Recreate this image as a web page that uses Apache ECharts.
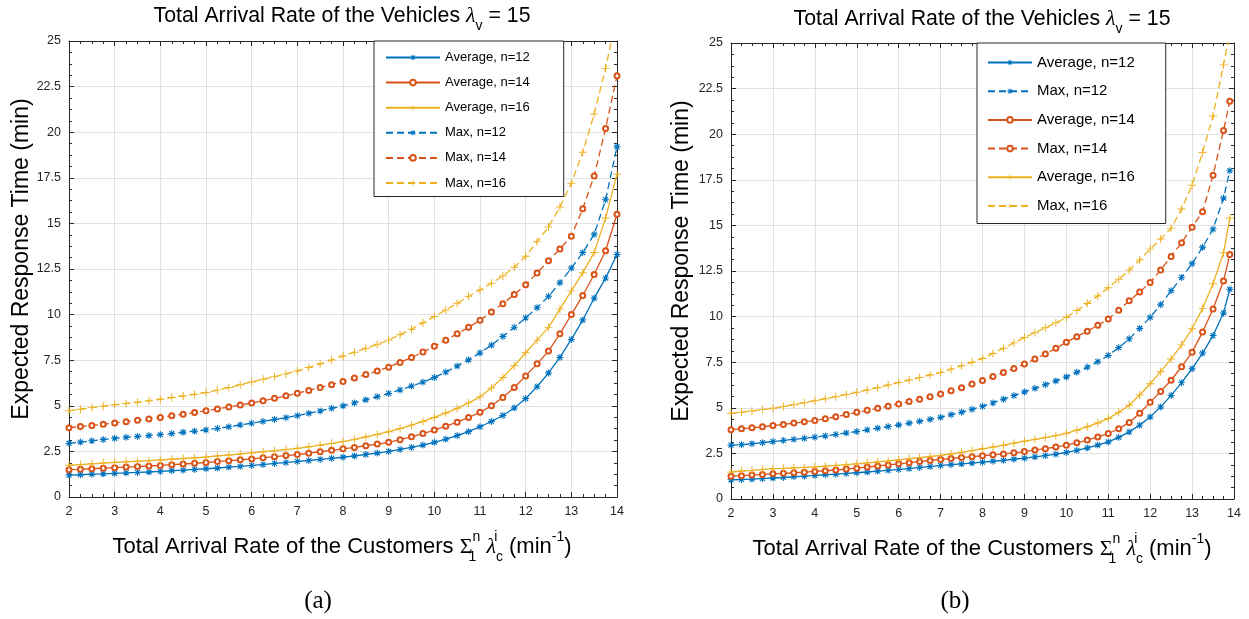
<!DOCTYPE html>
<html><head><meta charset="utf-8">
<script src="https://cdn.jsdelivr.net/npm/echarts@6/dist/echarts.min.js"></script>
<style>html,body{margin:0;padding:0;background:#fff}#c{width:1249px;height:619px}</style>
</head><body><div id="c"></div>
<script>
// ---------- data ----------
const xTicks = [2,3,4,5,6,7,8,9,10,11,12,13,14];
const yTicks = [0,2.5,5,7.5,10,12.5,15,17.5,20,22.5,25];

const xA = [2,2.25,2.5,2.75,3,3.25,3.5,3.75,4,4.25,4.5,4.75,5,5.25,5.5,5.75,6,6.25,6.5,6.75,7,7.25,7.5,7.75,8,8.25,8.5,8.75,9,9.25,9.5,9.75,10,10.25,10.5,10.75,11,11.25,11.5,11.75,12,12.25,12.5,12.75,13,13.25,13.5,13.75,14];
const xB = [2,2.25,2.5,2.75,3,3.25,3.5,3.75,4,4.25,4.5,4.75,5,5.25,5.5,5.75,6,6.25,6.5,6.75,7,7.25,7.5,7.75,8,8.25,8.5,8.75,9,9.25,9.5,9.75,10,10.25,10.5,10.75,11,11.25,11.5,11.75,12,12.25,12.5,12.75,13,13.25,13.5,13.75,13.9];

// panel (a)
const avgA12 = [1.20,1.22,1.25,1.27,1.30,1.32,1.35,1.37,1.40,1.44,1.47,1.51,1.55,1.59,1.64,1.68,1.73,1.78,1.84,1.89,1.95,2.00,2.06,2.12,2.18,2.25,2.33,2.41,2.50,2.61,2.72,2.85,3.00,3.17,3.37,3.59,3.85,4.14,4.47,4.88,5.40,6.05,6.80,7.65,8.64,9.70,10.90,12.00,13.30];
const avgA14 = [1.50,1.52,1.55,1.58,1.61,1.64,1.67,1.70,1.73,1.77,1.81,1.85,1.89,1.94,1.99,2.04,2.09,2.15,2.21,2.27,2.33,2.40,2.48,2.56,2.64,2.72,2.81,2.90,3.00,3.14,3.30,3.48,3.67,3.88,4.10,4.36,4.64,5.00,5.45,6.00,6.64,7.30,8.00,8.95,10.00,11.05,12.20,13.50,15.50];
const avgA16 = [1.74,1.78,1.82,1.86,1.90,1.93,1.96,1.99,2.03,2.07,2.11,2.15,2.19,2.25,2.30,2.36,2.42,2.48,2.54,2.60,2.67,2.75,2.84,2.94,3.04,3.16,3.29,3.43,3.58,3.75,3.94,4.14,4.36,4.60,4.86,5.16,5.49,5.98,6.55,7.20,7.91,8.60,9.30,10.30,11.30,12.30,13.40,15.30,17.70];
const maxA12 = [2.95,3.01,3.08,3.15,3.22,3.27,3.32,3.37,3.42,3.48,3.55,3.61,3.68,3.76,3.85,3.95,4.05,4.15,4.25,4.35,4.46,4.59,4.72,4.86,5.00,5.16,5.33,5.50,5.68,5.87,6.08,6.30,6.55,6.85,7.18,7.52,7.90,8.33,8.80,9.30,9.82,10.38,11.00,11.75,12.55,13.40,14.40,16.30,19.20];
const maxA14 = [3.80,3.86,3.92,3.99,4.06,4.13,4.21,4.28,4.36,4.45,4.54,4.63,4.73,4.83,4.93,5.04,5.15,5.28,5.41,5.55,5.69,5.84,6.00,6.16,6.33,6.52,6.71,6.91,7.12,7.38,7.65,7.95,8.27,8.60,8.95,9.30,9.69,10.14,10.60,11.10,11.64,12.28,12.95,13.60,14.30,15.80,17.60,20.20,23.10];
const maxA16 = [4.73,4.81,4.90,4.98,5.06,5.13,5.20,5.28,5.36,5.45,5.54,5.63,5.73,5.86,6.00,6.15,6.31,6.45,6.60,6.75,6.91,7.10,7.30,7.51,7.73,7.94,8.15,8.37,8.60,8.90,9.20,9.55,9.90,10.25,10.62,11.00,11.35,11.72,12.12,12.60,13.20,14.00,14.80,15.90,17.20,18.90,21.00,23.50,26.50];

// panel (b)
const avgB12 = [1.05,1.07,1.09,1.12,1.15,1.18,1.22,1.25,1.29,1.33,1.36,1.40,1.44,1.48,1.53,1.57,1.62,1.67,1.73,1.78,1.84,1.88,1.93,1.97,2.02,2.07,2.12,2.18,2.24,2.31,2.38,2.46,2.55,2.67,2.80,2.96,3.13,3.38,3.68,4.05,4.50,5.05,5.68,6.38,7.14,8.00,8.96,10.20,11.50];
const maxB12 = [2.95,2.98,3.03,3.09,3.15,3.21,3.27,3.33,3.39,3.46,3.54,3.62,3.70,3.79,3.88,3.97,4.06,4.16,4.26,4.37,4.48,4.62,4.76,4.92,5.08,5.27,5.47,5.67,5.87,6.07,6.27,6.47,6.69,6.95,7.23,7.53,7.87,8.30,8.78,9.35,9.96,10.65,11.42,12.15,12.90,13.80,14.80,16.50,18.00];
const avgB14 = [1.25,1.28,1.31,1.35,1.38,1.41,1.44,1.47,1.51,1.55,1.59,1.64,1.69,1.75,1.81,1.87,1.93,1.99,2.05,2.11,2.17,2.22,2.27,2.32,2.37,2.42,2.47,2.53,2.60,2.68,2.76,2.85,2.95,3.08,3.23,3.40,3.59,3.85,4.19,4.70,5.30,5.90,6.51,7.25,8.05,9.15,10.42,11.95,13.40];
const maxB14 = [3.80,3.85,3.90,3.96,4.03,4.09,4.16,4.23,4.30,4.40,4.51,4.63,4.75,4.86,4.97,5.09,5.21,5.34,5.47,5.61,5.76,5.93,6.10,6.30,6.50,6.71,6.93,7.16,7.40,7.67,7.95,8.26,8.60,8.90,9.20,9.52,9.87,10.35,10.87,11.35,11.87,12.55,13.30,14.05,14.90,15.75,17.75,20.20,21.80];
const avgB16 = [1.48,1.53,1.57,1.62,1.66,1.68,1.71,1.73,1.76,1.80,1.84,1.88,1.93,1.98,2.04,2.09,2.15,2.21,2.27,2.33,2.39,2.47,2.56,2.65,2.75,2.85,2.95,3.06,3.17,3.27,3.37,3.48,3.60,3.77,3.96,4.17,4.41,4.75,5.14,5.70,6.32,6.98,7.68,8.45,9.33,10.45,11.80,13.50,15.40];
const maxB16 = [4.70,4.76,4.83,4.90,4.97,5.07,5.17,5.28,5.39,5.50,5.61,5.73,5.85,5.98,6.11,6.25,6.39,6.52,6.66,6.80,6.94,7.12,7.30,7.50,7.70,7.98,8.27,8.56,8.85,9.12,9.39,9.66,9.95,10.33,10.72,11.13,11.58,12.05,12.55,13.10,13.70,14.25,14.85,15.90,17.20,19.00,21.00,23.80,25.60];

const legendA = ['Average, n=12','Average, n=14','Average, n=16','Max, n=12','Max, n=14','Max, n=16'];
const legendB = ['Average, n=12','Max, n=12','Average, n=14','Max, n=14','Average, n=16','Max, n=16'];

// ---------- style ----------
const FONT = '"Liberation Sans", Arial, Helvetica, sans-serif';
const SERIF = '"Liberation Serif", "DejaVu Serif", serif';
const C12 = '#0072BD', C14 = '#D95319', C16 = '#EDB120';
const AX = '#262626';
const ASTERISK = 'path://M4.3,0H5.7V4.3H10V5.7H5.7V10H4.3V5.7H0V4.3H4.3Z M0.89,2.03L2.03,0.89L9.11,7.97L7.97,9.11Z M7.97,0.89L9.11,2.03L2.03,9.11L0.89,7.97Z';
const PLUS = 'path://M4.4,0H5.6V4.4H10V5.6H5.6V10H4.4V5.6H0V4.4H4.4Z';

function mk(name, xs, ys, color, kind, dashed, gi) {
  const sym = kind === 12 ? ASTERISK : (kind === 14 ? 'emptyCircle' : PLUS);
  const size = kind === 12 ? 7 : (kind === 14 ? 5 : 8);
  return {
    type: 'line', name, xAxisIndex: gi * 2, yAxisIndex: gi * 2,
    data: xs.map((v, i) => [v, ys[i]]),
    symbol: sym, symbolSize: size, showSymbol: true, showAllSymbol: true, clip: true,
    lineStyle: { color, width: 1.3, type: dashed ? [7, 4] : 'solid' },
    itemStyle: { color, borderColor: color, borderWidth: kind === 14 ? 1.2 : 0 },
    emphasis: { disabled: true }, animation: false, silent: true
  };
}

function xAx(gi, pos, main) {
  return {
    type: 'value', gridIndex: gi, position: pos,
    min: xTicks[0], max: xTicks[xTicks.length - 1], interval: xTicks[1] - xTicks[0],
    axisLine: { show: true, onZero: false, lineStyle: { color: AX, width: 1 } },
    axisTick: { show: true, inside: true, length: 5, lineStyle: { color: AX, width: 1 } },
    minorTick: { show: true, splitNumber: 4, length: 3, lineStyle: { color: AX, width: 1 } },
    axisLabel: { show: main, margin: 8, fontSize: 12.5, color: AX, fontFamily: FONT },
    splitLine: { show: main, lineStyle: { color: '#e2e2e2', width: 1 } },
    minorSplitLine: { show: false }
  };
}
function yAx(gi, pos, main) {
  return {
    type: 'value', gridIndex: gi, position: pos,
    min: yTicks[0], max: yTicks[yTicks.length - 1], interval: yTicks[1] - yTicks[0],
    axisLine: { show: true, onZero: false, lineStyle: { color: AX, width: 1 } },
    axisTick: { show: true, inside: true, length: 5, lineStyle: { color: AX, width: 1 } },
    minorTick: { show: true, splitNumber: 4, length: 3, lineStyle: { color: AX, width: 1 } },
    axisLabel: { show: main, margin: 8, fontSize: 12.5, color: AX, fontFamily: FONT },
    splitLine: { show: main, lineStyle: { color: '#e2e2e2', width: 1 } },
    minorSplitLine: { show: false }
  };
}

const titleRich = {
  lam: { fontFamily: SERIF, fontStyle: 'italic', fontSize: 22, lineHeight: 30, verticalAlign: 'middle' },
  sub: { fontFamily: FONT, fontSize: 14, lineHeight: 14, verticalAlign: 'bottom' }
};
const xTitleRich = {
  sym: { fontFamily: SERIF, fontSize: 22, lineHeight: 34, verticalAlign: 'middle' },
  lam: { fontFamily: SERIF, fontStyle: 'italic', fontSize: 22, lineHeight: 34, verticalAlign: 'middle' },
  sup: { fontFamily: FONT, fontSize: 14, lineHeight: 14, verticalAlign: 'top' },
  sup0: { fontFamily: FONT, fontSize: 14, lineHeight: 14, verticalAlign: 'top', width: 0 },
  sub: { fontFamily: FONT, fontSize: 14, lineHeight: 14, verticalAlign: 'bottom' },
  sub0: { fontFamily: FONT, fontSize: 14, lineHeight: 14, verticalAlign: 'bottom', width: 0 }
};
const xTitleText = 'Total Arrival Rate of the Customers {sym|Σ}{sub0|1}{sup|n} {lam|λ}{sup0|i}{sub|c} (min{sup|-1})';
const titleText = 'Total Arrival Rate of the Vehicles {lam|λ}{sub|v} = 15';

function txt(x, y, text, size, rich, rot, family) {
  return {
    type: 'text', x, y, rotation: rot || 0, silent: true, z: 100,
    style: { text, fontFamily: family || FONT, fontSize: size, lineHeight: rich ? 34 : size * 1.2,
      fill: '#000', align: 'center', verticalAlign: 'middle', rich: rich || undefined }
  };
}

function legendOf(data, left, top, fs, iw, gap, pad) {
  return {
    data, orient: 'vertical', left, top, itemWidth: iw, itemHeight: 7, itemGap: gap,
    padding: pad, backgroundColor: '#fff', borderColor: AX, borderWidth: 1, borderRadius: 0,
    selectedMode: false, textStyle: { fontSize: fs, fontFamily: FONT, color: '#000' }, z: 50
  };
}

const option = {
  animation: false,
  backgroundColor: '#fff',
  grid: [
    { left: 69, top: 41, width: 548, height: 456, outerBoundsMode: 'none', containLabel: false },
    { left: 731, top: 43, width: 503, height: 456, outerBoundsMode: 'none', containLabel: false }
  ],
  xAxis: [xAx(0, 'bottom', true), xAx(0, 'top', false), xAx(1, 'bottom', true), xAx(1, 'top', false)],
  yAxis: [yAx(0, 'left', true), yAx(0, 'right', false), yAx(1, 'left', true), yAx(1, 'right', false)],
  legend: [
    legendOf(legendA, 374, 41, 13, 54, 12.1, [10, 34, 7, 11]),
    legendOf(legendB, 977, 43, 15, 44, 13.7, [12, 31, 10, 10])
  ],
  series: [
    mk('Average, n=12', xA, avgA12, C12, 12, false, 0),
    mk('Average, n=14', xA, avgA14, C14, 14, false, 0),
    mk('Average, n=16', xA, avgA16, C16, 16, false, 0),
    mk('Max, n=12', xA, maxA12, C12, 12, true, 0),
    mk('Max, n=14', xA, maxA14, C14, 14, true, 0),
    mk('Max, n=16', xA, maxA16, C16, 16, true, 0),
    mk('Average, n=12', xB, avgB12, C12, 12, false, 1),
    mk('Max, n=12', xB, maxB12, C12, 12, true, 1),
    mk('Average, n=14', xB, avgB14, C14, 14, false, 1),
    mk('Max, n=14', xB, maxB14, C14, 14, true, 1),
    mk('Average, n=16', xB, avgB16, C16, 16, false, 1),
    mk('Max, n=16', xB, maxB16, C16, 16, true, 1)
  ],
  graphic: [
    txt(342, 16, titleText, 21.3, titleRich),
    txt(982, 19, titleText, 21.3, titleRich),
    txt(22, 259, 'Expected Response Time (min)', 23, null, Math.PI / 2),
    txt(682, 261, 'Expected Response Time (min)', 23, null, Math.PI / 2),
    txt(342, 547, xTitleText, 22, xTitleRich),
    txt(982, 549, xTitleText, 22, xTitleRich),
    txt(318, 601, '(a)', 25, null, 0, SERIF),
    txt(955, 601, '(b)', 25, null, 0, SERIF)
  ]
};

const chart = echarts.init(document.getElementById('c'), null, { renderer: 'canvas' });
chart.setOption(option);
</script>
</body></html>
